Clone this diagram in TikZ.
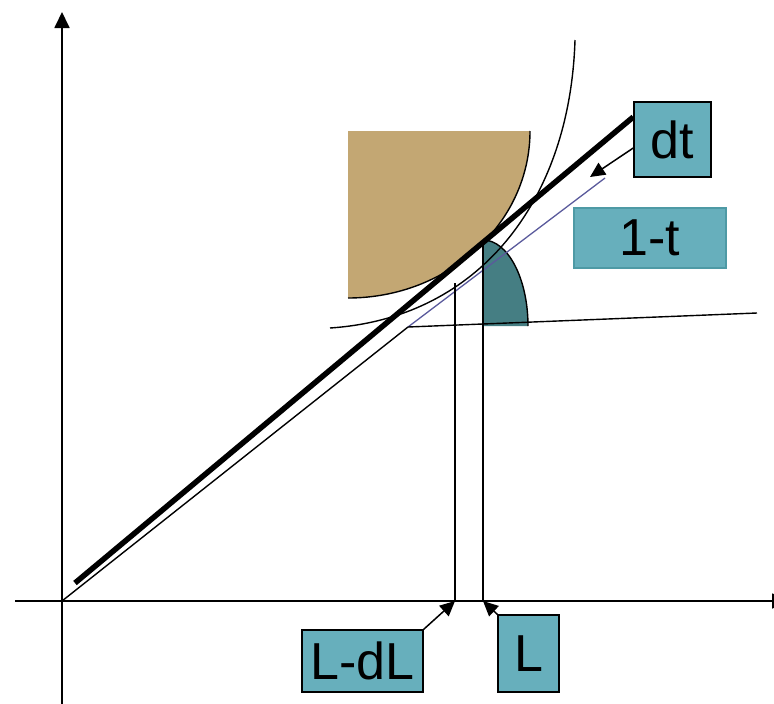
\documentclass[tikz,border=0pt]{standalone}
\usepackage{fontspec}
\setmainfont{Liberation Sans}
\usetikzlibrary{arrows.meta,positioning}
\definecolor{sandfill}{HTML}{C3A773}
\definecolor{darkteal}{HTML}{457E83}
\definecolor{boxteal}{HTML}{67AFBC}
\definecolor{boxedge}{HTML}{4E9AA5}
\definecolor{slateline}{HTML}{5A5A9C}

\begin{document}
\begin{tikzpicture}[
    x=1pt, y=-1pt,
    axis/.style={line width=1.8pt, -{Triangle[length=16pt,width=15pt]}},
    pointer/.style={line width=1.5pt, -{Triangle[length=15pt,width=14pt]}},
    tag/.style={draw, line width=1.5pt, fill=boxteal, inner sep=0pt, font=\fontsize{52}{60}\selectfont},
    thin/.style={line width=1.4pt}
  ]
    \useasboundingbox (0,0) rectangle (774,704);
    \clip (0,0) rectangle (774,704);

    % shaded regions
    \fill[sandfill] (348,298) .. controls (448.5,298) and (530,223.2) .. (530,131) -- (348,131) -- cycle;
    \draw[thin] (348,298) .. controls (448.5,298) and (530,223.2) .. (530,131);
    \fill[darkteal] (483,240) .. controls (507.8,240) and (528,278.5) .. (528,326) -- (483,326) -- cycle;
    \draw[thin] (483,240) .. controls (507.8,240) and (528,278.5) .. (528,326);

    % points
    \coordinate (O) at (62,601);
    \coordinate (start) at (75,583);
    \coordinate (knee) at (408,327);
    \coordinate (blueend) at (605,178);
    \coordinate (flatend) at (757,313);
    \coordinate (touch) at (483,240);
    \coordinate (inner) at (455,283);
    \coordinate (Lfoot) at (483,601);
    \coordinate (dLfoot) at (455,601);

    % axes
    \draw[axis] (62,704) -- (62,12);
    \draw[axis] (15,601) -- (788,601);

    % curve and lines
    \draw[thin] (330,328) .. controls (480,318) and (570,200) .. (575,40);
    \draw[thin] (O) -- (knee);
    \draw[slateline, line width=1.3pt] (knee) -- (blueend);
    \draw[thin] (knee) -- (flatend);
    \draw[line width=1.8pt] (touch) -- (Lfoot);
    \draw[line width=1.8pt] (inner) -- (dLfoot);

    % labels
    \node[tag, minimum width=77pt, minimum height=75pt] (dt) at (672.5,139.5) {dt};
    \node[tag, draw=boxedge, minimum width=152pt, minimum height=60pt] (onet) at (650,238) {1-t};
    \node[tag, minimum width=121pt, minimum height=62pt] (ldl) at (362.5,661) {L-dL};
    \node[tag, minimum width=61pt, minimum height=77pt] (lbox) at (528.5,653.5) {L};

    \draw[line width=5.5pt] (start) -- (dt.north west |- 0,117);
    \draw[pointer] (dt.west |- 0,148) -- (590,177);
    \draw[pointer] (ldl.north east) -- (dLfoot);
    \draw[pointer] (lbox.north west) -- (Lfoot);
  \end{tikzpicture}
\end{document}
